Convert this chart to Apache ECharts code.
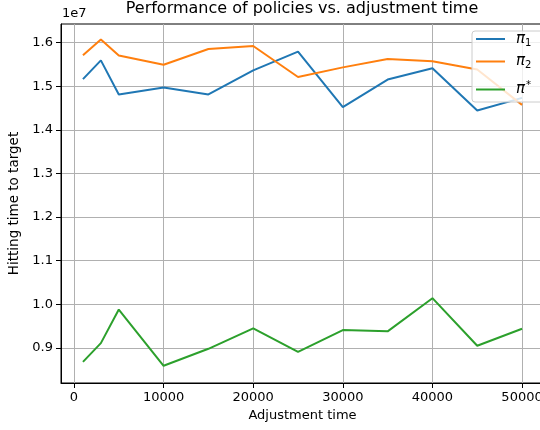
<!DOCTYPE html>
<html><head><meta charset="utf-8">
<script src="https://cdn.jsdelivr.net/npm/echarts@6/dist/echarts.min.js"></script>
<style>html,body{margin:0;padding:0;background:#fff}#c{width:540px;height:430px}</style>
</head><body><div id="c"></div>
<script>
const adjustmentTimes = [1000, 3000, 5000, 10000, 15000, 20000, 25000, 30000, 35000, 40000, 45000, 50000];
const pi1Values = [15160000, 15590000, 14810000, 14970000, 14810000, 15360000, 15790000, 14520000, 15150000, 15410000, 14440000, 14730000];
const pi2Values = [15710000, 16070000, 15700000, 15490000, 15850000, 15920000, 15210000, 15430000, 15620000, 15570000, 15380000, 14570000];
const piStarValues = [8680000, 9110000, 9880000, 8590000, 8980000, 9450000, 8910000, 9410000, 9380000, 10140000, 9050000, 9440000];
const xTicks = [0, 10000, 20000, 30000, 40000, 50000];
const yTicks = [9000000, 10000000, 11000000, 12000000, 13000000, 14000000, 15000000, 16000000];
const seriesNames = ['π1', 'π2', 'π*'];
const colors = ['#1f77b4', '#ff7f0e', '#2ca02c'];

const FONT = 'DejaVu Sans';
const chart = echarts.init(document.getElementById('c'), null, {renderer: 'canvas'});
const pairs = v => adjustmentTimes.map((x, i) => [x, v[i]]);
const allSeries = [pi1Values, pi2Values, piStarValues];

const legendFormatter = name => {
  if (name === 'π*') return '{p|π}{sup|*}';
  return '{p|π}{sub|' + name.slice(1) + '}';
};
const legendRich = {
  p: {fontFamily: FONT, fontStyle: 'italic', fontSize: 15, lineHeight: 18, color: '#000', padding: [0, 0, 0, 6]},
  sub: {fontFamily: FONT, fontSize: 10, lineHeight: 18, color: '#000', verticalAlign: 'bottom', padding: [6, 0, 0, 0]},
  sup: {fontFamily: FONT, fontSize: 10, lineHeight: 18, color: '#000', verticalAlign: 'top', padding: [0, 0, 8, 1]}
};
const legendTops = [31.5, 54, 80.5];

chart.setOption({
  animation: false,
  backgroundColor: '#fff',
  color: colors,
  title: [
    {text: 'Performance of policies vs. adjustment time', left: 302, textAlign: 'center', top: 1, padding: 0,
     textStyle: {fontFamily: FONT, fontSize: 16, fontWeight: 'normal', color: '#000'}},
    {text: '1e7', left: 62, top: 7, padding: 0,
     textStyle: {fontFamily: FONT, fontSize: 13, fontWeight: 'normal', color: '#000'}}
  ],
  graphic: [{
    type: 'rect', z: 100,
    shape: {x: 472, y: 31, width: 80, height: 71, r: 3},
    style: {fill: 'rgba(255,255,255,0.8)', stroke: '#cccccc', lineWidth: 1}
  }],
  legend: seriesNames.map((n, i) => ({
    data: [n], left: 476, top: legendTops[i], padding: 0, itemGap: 0,
    itemWidth: 29, itemHeight: 2, icon: 'rect', z: 110,
    formatter: legendFormatter,
    textStyle: {fontFamily: FONT, fontSize: 14, color: '#000', rich: legendRich}
  })),
  grid: {left: 61, width: 483, top: 24, bottom: 47, show: true, borderColor: '#000', borderWidth: 1,
         backgroundColor: 'transparent', containLabel: false, outerBoundsMode: 'none'},
  xAxis: {
    type: 'value', min: -1450, max: 52450,
    name: 'Adjustment time', nameLocation: 'middle', nameGap: 26,
    nameTextStyle: {fontFamily: FONT, fontSize: 13, color: '#000'},
    axisLine: {show: true, onZero: false, lineStyle: {color: '#000', width: 1}},
    axisTick: {show: true, length: 5, inside: false, customValues: xTicks, lineStyle: {color: '#000', width: 1}},
    axisLabel: {customValues: xTicks, margin: 8, fontFamily: FONT, fontSize: 13, color: '#000', formatter: v => String(v)},
    splitLine: {show: true, lineStyle: {color: '#b0b0b0', width: 1}}
  },
  yAxis: {
    type: 'value', min: 8196000, max: 16424000,
    name: 'Hitting time to target', nameLocation: 'middle', nameGap: 28,
    nameTextStyle: {fontFamily: FONT, fontSize: 13.5, color: '#000'},
    axisLine: {show: true, onZero: false, lineStyle: {color: '#000', width: 1}},
    axisTick: {show: true, length: 5, inside: false, customValues: yTicks, lineStyle: {color: '#000', width: 1}},
    axisLabel: {customValues: yTicks, margin: 8, fontFamily: FONT, fontSize: 13, color: '#000', formatter: v => (v / 1e7).toFixed(1)},
    splitLine: {show: true, lineStyle: {color: '#b0b0b0', width: 1}}
  },
  series: seriesNames.map((n, i) => ({
    name: n, type: 'line', data: pairs(allSeries[i]),
    showSymbol: false, symbol: 'none', lineStyle: {width: 2, color: colors[i]},
    itemStyle: {color: colors[i]}, z: 2, clip: true
  }))
});
</script>
</body></html>
